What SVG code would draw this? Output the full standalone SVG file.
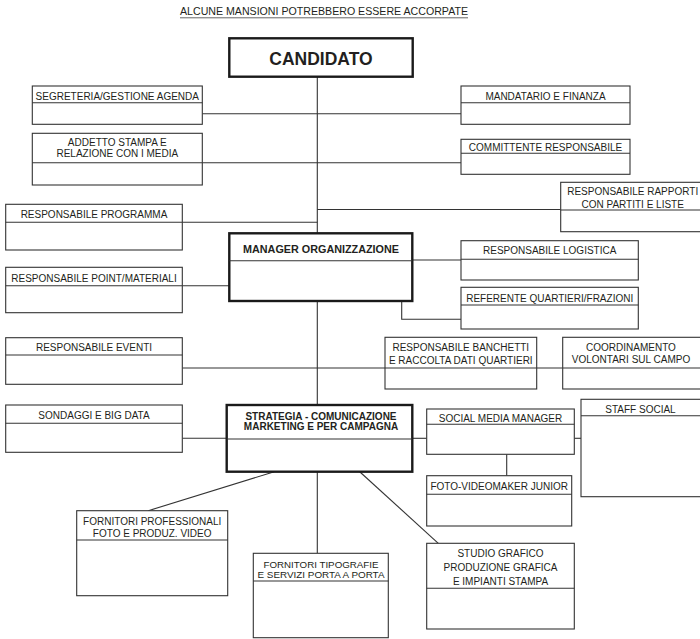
<svg xmlns="http://www.w3.org/2000/svg" width="700" height="639" viewBox="0 0 700 639">
<style>
  text { font-family: "Liberation Sans", Arial, sans-serif; font-size: 10px; fill: #231f20; text-anchor: middle; }
  .b { font-weight: bold; }
  .t { font-size: 10.5px; }
  .big { font-size: 17.5px; }
  .mgr { font-size: 10.8px; }
  .sm { font-size: 9.6px; }
  .box { fill: #fff; stroke: #333; stroke-width: 1.1; }
  .thick { fill: #fff; stroke: #1a1a1a; stroke-width: 2.4; }
  .div { stroke: #333; stroke-width: 1.1; fill: none; }
  .conn line, .conn polyline { stroke: #333; stroke-width: 1.1; fill: none; }
</style>
<rect width="700" height="639" fill="#fff"/>

<g id="title">
  <text class="t" x="324" y="15" textLength="288" lengthAdjust="spacingAndGlyphs">ALCUNE MANSIONI POTREBBERO ESSERE ACCORPATE</text>
  <line x1="180" y1="17.8" x2="468" y2="17.8" stroke="#555" stroke-width="0.9"/>
</g>

<g class="conn" id="connectors">
  <line x1="317.3" y1="77" x2="317.3" y2="233"/>
  <line x1="317.3" y1="301" x2="317.3" y2="405"/>
  <line x1="317.3" y1="471.7" x2="317.3" y2="553.3"/>
  <line x1="202.3" y1="113.7" x2="461" y2="113.7"/>
  <line x1="202.3" y1="162.7" x2="461" y2="162.7"/>
  <line x1="317.3" y1="209.5" x2="560.7" y2="209.5"/>
  <line x1="182.3" y1="222.3" x2="317.3" y2="222.3"/>
  <line x1="182.3" y1="285.7" x2="229.3" y2="285.7"/>
  <line x1="412.3" y1="260" x2="461" y2="260"/>
  <polyline points="401.7,301 401.7,319.3 461,319.3"/>
  <line x1="182.3" y1="368" x2="562.7" y2="368"/>
  <line x1="182.3" y1="438.3" x2="226.7" y2="438.3"/>
  <line x1="412.3" y1="438.3" x2="426.7" y2="438.3"/>
  <line x1="574.3" y1="438.3" x2="581" y2="438.3"/>
  <line x1="506.7" y1="454.3" x2="506.7" y2="475.7"/>
  <line x1="274.3" y1="471.7" x2="148.3" y2="510.7"/>
  <line x1="356.7" y1="469" x2="438.3" y2="543.3"/>
</g>

<g id="candidato">
  <rect class="thick" x="229.3" y="38.3" width="183.4" height="38.4"/>
  <text class="b big" x="321" y="65">CANDIDATO</text>
</g>

<g id="segreteria">
  <rect class="box" x="32.3" y="86" width="170" height="38.3"/>
  <line class="div" x1="32.3" y1="102.7" x2="202.3" y2="102.7"/>
  <text x="117.3" y="99.5">SEGRETERIA/GESTIONE AGENDA</text>
</g>

<g id="mandatario">
  <rect class="box" x="461" y="86" width="169" height="38.3"/>
  <line class="div" x1="461" y1="102.7" x2="630" y2="102.7"/>
  <text x="545.5" y="99.5">MANDATARIO E FINANZA</text>
</g>

<g id="addetto-stampa">
  <rect class="box" x="32.3" y="133.3" width="170" height="51.7"/>
  <line class="div" x1="32.3" y1="162.7" x2="202.3" y2="162.7"/>
  <text x="117.3" y="146.3">ADDETTO STAMPA E</text>
  <text x="117.3" y="156.5">RELAZIONE CON I MEDIA</text>
</g>

<g id="committente">
  <rect class="box" x="461" y="139.3" width="169" height="35"/>
  <line class="div" x1="461" y1="153.3" x2="630" y2="153.3"/>
  <text x="545.5" y="151">COMMITTENTE RESPONSABILE</text>
</g>

<g id="rapporti-partiti">
  <rect class="box" x="560.7" y="182.3" width="150" height="49.4"/>
  <line class="div" x1="560.7" y1="210" x2="710" y2="210"/>
  <text x="632.7" y="195">RESPONSABILE RAPPORTI</text>
  <text x="632.7" y="208">CON PARTITI E LISTE</text>
</g>

<g id="programma">
  <rect class="box" x="5.7" y="204.3" width="176.6" height="45.7"/>
  <line class="div" x1="5.7" y1="222.3" x2="182.3" y2="222.3"/>
  <text x="94" y="218.3">RESPONSABILE PROGRAMMA</text>
</g>

<g id="manager">
  <rect class="thick" x="229.3" y="233.3" width="183" height="67.7"/>
  <line x1="229.3" y1="260.7" x2="412.3" y2="260.7" stroke="#333" stroke-width="1.1"/>
  <text class="b mgr" x="321" y="253">MANAGER ORGANIZZAZIONE</text>
</g>

<g id="logistica">
  <rect class="box" x="461" y="240.7" width="177.3" height="39.3"/>
  <line class="div" x1="461" y1="259.3" x2="638.3" y2="259.3"/>
  <text x="549.7" y="254.3">RESPONSABILE LOGISTICA</text>
</g>

<g id="point-materiali">
  <rect class="box" x="5.7" y="267.3" width="176.6" height="45.4"/>
  <line class="div" x1="5.7" y1="285.7" x2="182.3" y2="285.7"/>
  <text x="94" y="281.5">RESPONSABILE POINT/MATERIALI</text>
</g>

<g id="referente-quartieri">
  <rect class="box" x="461" y="287.3" width="177.3" height="41.7"/>
  <line class="div" x1="461" y1="305" x2="638.3" y2="305"/>
  <text x="549.7" y="301.5">REFERENTE QUARTIERI/FRAZIONI</text>
</g>

<g id="eventi">
  <rect class="box" x="5.7" y="337.7" width="176.6" height="46.6"/>
  <line class="div" x1="5.7" y1="355" x2="182.3" y2="355"/>
  <text x="94" y="351.3">RESPONSABILE EVENTI</text>
</g>

<g id="banchetti">
  <rect class="box" x="385" y="337.3" width="151.7" height="51.7"/>
  <line class="div" x1="385" y1="368" x2="536.7" y2="368"/>
  <text x="460.8" y="351.3">RESPONSABILE BANCHETTI</text>
  <text x="460.8" y="363.5">E RACCOLTA DATI QUARTIERI</text>
</g>

<g id="coordinamento">
  <rect class="box" x="562.7" y="337.3" width="150" height="51.7"/>
  <line class="div" x1="562.7" y1="368" x2="710" y2="368"/>
  <text x="631" y="350.5">COORDINAMENTO</text>
  <text x="631" y="363.3">VOLONTARI SUL CAMPO</text>
</g>

<g id="sondaggi">
  <rect class="box" x="5.7" y="405" width="176.6" height="47.3"/>
  <line class="div" x1="5.7" y1="423.3" x2="182.3" y2="423.3"/>
  <text x="94" y="419.3">SONDAGGI E BIG DATA</text>
</g>

<g id="strategia">
  <rect class="thick" x="226.7" y="405" width="185.6" height="66.7"/>
  <line x1="226.7" y1="439" x2="412.3" y2="439" stroke="#333" stroke-width="1.1"/>
  <text class="b" x="321" y="420">STRATEGIA - COMUNICAZIONE</text>
  <text class="b" x="321" y="430">MARKETING E PER CAMPAGNA</text>
</g>

<g id="social-media-manager">
  <rect class="box" x="426.7" y="409" width="147.6" height="45.3"/>
  <line class="div" x1="426.7" y1="424.3" x2="574.3" y2="424.3"/>
  <text x="500.5" y="422.3">SOCIAL MEDIA MANAGER</text>
</g>

<g id="staff-social">
  <rect class="box" x="581" y="399.3" width="130" height="97.4"/>
  <line class="div" x1="581" y1="415.7" x2="711" y2="415.7"/>
  <text x="640.5" y="413.3">STAFF SOCIAL</text>
</g>

<g id="foto-videomaker">
  <rect class="box" x="426.7" y="475.7" width="145" height="50.3"/>
  <line class="div" x1="426.7" y1="494.3" x2="571.7" y2="494.3"/>
  <text x="499.2" y="490">FOTO-VIDEOMAKER JUNIOR</text>
</g>

<g id="fornitori-foto">
  <rect class="box" x="76.7" y="510.7" width="151" height="85"/>
  <line class="div" x1="76.7" y1="540" x2="227.7" y2="540"/>
  <text x="152.2" y="525">FORNITORI PROFESSIONALI</text>
  <text x="152.2" y="537.3">FOTO E PRODUZ. VIDEO</text>
</g>

<g id="fornitori-tipografie">
  <rect class="box" x="253.3" y="553.3" width="135" height="84.4"/>
  <line class="div" x1="253.3" y1="581" x2="388.3" y2="581"/>
  <text class="sm" x="321" y="567.5" textLength="115" lengthAdjust="spacingAndGlyphs">FORNITORI TIPOGRAFIE</text>
  <text class="sm" x="321" y="578" textLength="127" lengthAdjust="spacingAndGlyphs">E SERVIZI PORTA A PORTA</text>
</g>

<g id="studio-grafico">
  <rect class="box" x="426.7" y="543.3" width="147.6" height="85.7"/>
  <line class="div" x1="426.7" y1="588.3" x2="574.3" y2="588.3"/>
  <text x="500.5" y="556.5">STUDIO GRAFICO</text>
  <text x="500.5" y="570.5">PRODUZIONE GRAFICA</text>
  <text x="500.5" y="584.7">E IMPIANTI STAMPA</text>
</g>
</svg>
